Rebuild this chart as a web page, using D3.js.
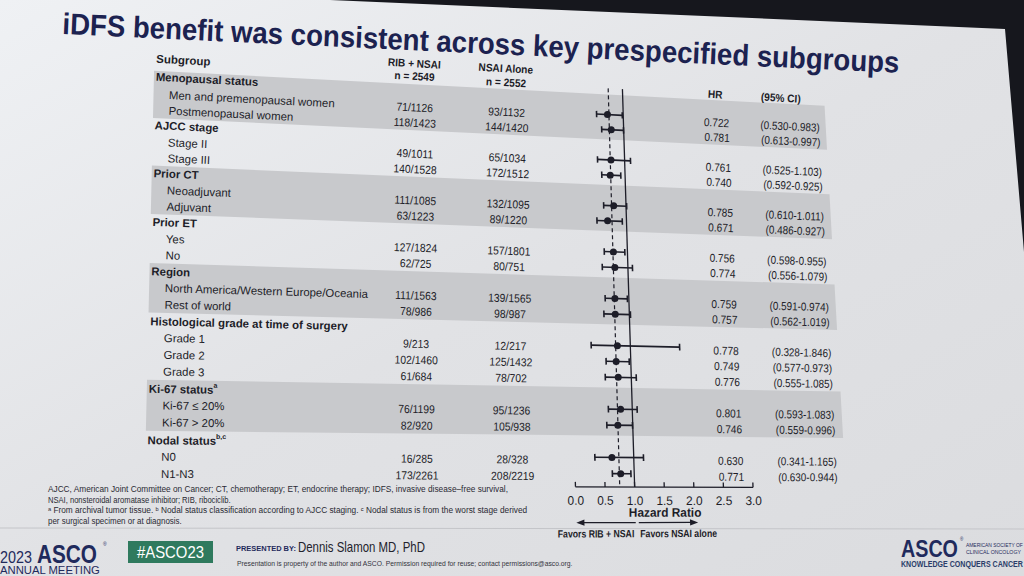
<!DOCTYPE html>
<html><head><meta charset="utf-8">
<script src="https://cdn.jsdelivr.net/npm/d3@7"></script>
<style>
html,body{margin:0;padding:0;background:#15161c;}
svg{display:block;font-family:"Liberation Sans",Arial,sans-serif;}
</style></head><body>
<svg id="chart" width="1024" height="576"></svg>
<script>
// ---------------- data ----------------
const titleText = "iDFS benefit was consistent across key prespecified subgroups";
const rowLabels = ["Menopausal status","Men and premenopausal women","Postmenopausal women",
  "AJCC stage","Stage II","Stage III",
  "Prior CT","Neoadjuvant","Adjuvant",
  "Prior ET","Yes","No",
  "Region","North America/Western Europe/Oceania","Rest of world",
  "Histological grade at time of surgery","Grade 1","Grade 2","Grade 3",
  "Ki-67 status","Ki-67 \u2264 20%","Ki-67 > 20%",
  "Nodal status","N0","N1-N3"];
const rowSup = ["","","","","","","","","","","","","","","","","","","","a","","","b,c","",""];
const isHeader = [1,0,0,1,0,0,1,0,0,1,0,0,1,0,0,1,0,0,0,1,0,0,1,0,0];
const ribNsai = [null,"71/1126","118/1423",null,"49/1011","140/1528",null,"111/1085","63/1223",null,"127/1824","62/725",null,"111/1563","78/986",null,"9/213","102/1460","61/684",null,"76/1199","82/920",null,"16/285","173/2261"];
const nsaiAlone = [null,"93/1132","144/1420",null,"65/1034","172/1512",null,"132/1095","89/1220",null,"157/1801","80/751",null,"139/1565","98/987",null,"12/217","125/1432","78/702",null,"95/1236","105/938",null,"28/328","208/2219"];
const hrValues = [null,0.722,0.781,null,0.761,0.740,null,0.785,0.671,null,0.756,0.774,null,0.759,0.757,null,0.778,0.749,0.776,null,0.801,0.746,null,0.630,0.771];
const ciLow = [null,0.530,0.613,null,0.525,0.592,null,0.610,0.486,null,0.598,0.556,null,0.591,0.562,null,0.328,0.577,0.555,null,0.593,0.559,null,0.341,0.630];
const ciHigh = [null,0.983,0.997,null,1.103,0.925,null,1.011,0.927,null,0.955,1.079,null,0.974,1.019,null,1.846,0.973,1.085,null,1.083,0.996,null,1.165,0.944];
const shadedGroups = [[0,2],[6,8],[12,14],[19,21]];
const axisTicks = [0,0.5,1.0,1.5,2.0,2.5,3.0];
const overallHR = 0.748;
const colHeaders1 = ["RIB + NSAI","NSAI Alone"];
const colHeaders2 = ["n = 2549","n = 2552"];
const footnoteLines = [
  "AJCC, American Joint Committee on Cancer; CT, chemotherapy; ET, endocrine therapy; IDFS, invasive disease\u2013free survival,",
  "NSAI, nonsteroidal aromatase inhibitor; RIB, ribociclib.",
  "\u1d43 From archival tumor tissue. \u1d47 Nodal status classification according to AJCC staging. \u1d9c Nodal status is from the worst stage derived",
  "per surgical specimen or at diagnosis."
];

// ---------------- setup ----------------
const svg = d3.select("#chart");
const W = 1024, H = 576;
const defs = svg.append("defs");
const grad = defs.append("linearGradient").attr("id","bg").attr("x1","0").attr("y1","0").attr("x2","1").attr("y2","1");
grad.append("stop").attr("offset","0").attr("stop-color","#eff1f4");
grad.append("stop").attr("offset","0.5").attr("stop-color","#e1e2e5");
grad.append("stop").attr("offset","1").attr("stop-color","#dbdcdf");
svg.append("rect").attr("width",W).attr("height",H).attr("fill","url(#bg)");
svg.append("path").attr("d", d3.line()([[330,0],[820,21],[1005,29],[1024,252],[1024,0]]) + "Z").attr("fill","#16171d");

// text squeezed to a given width by a transform (style applied before measuring)
function fitText(sel, x0, y0, str, width, style, rot){
  const t = sel.append("text");
  Object.entries(style||{}).forEach(([k,v])=>t.attr(k,v));
  t.text(str);
  const len = t.node().getComputedTextLength() || width;
  t.attr("transform",`translate(${x0},${y0}) rotate(${rot||0}) scale(${(width/len).toFixed(4)},1)`);
  return t;
}

// camera view: bilinear map (with perspective easing down the page) from flat slide coords to the photo
const FX0=166, FX1=808, FY0=95.5, FY1=475;
const cA=[169,95], cB=[790,126], cC=[161,474], cD=[808,477];
function P(pt){
  const u=(pt[0]-FX0)/(FX1-FX0), v0=(pt[1]-FY0)/(FY1-FY0);
  const a=1.05-0.015*u;
  const v=v0/(v0+a*(1-v0));
  return [0,1].map(k=>(1-u)*(1-v)*cA[k]+u*(1-v)*cB[k]+(1-u)*v*cC[k]+u*v*cD[k]);
}
const line = d3.line();
function pline(pts){return line(pts.map(P));}
function ptext(sel, X, Y, str, anchor, sx){
  const p=P([X,Y]), q=P([X+30,Y]);
  const ang=Math.atan2(q[1]-p[1],q[0]-p[0])*180/Math.PI;
  return sel.append("text").attr("transform",`translate(${p[0].toFixed(2)},${p[1].toFixed(2)}) rotate(${ang.toFixed(3)}) scale(${sx||1},1)`)
    .attr("text-anchor",anchor||"start").attr("dominant-baseline","central").text(str);
}

// scales (flat coordinates)
const y = d3.scalePoint().domain(d3.range(rowLabels.length)).range([77,475]);
const step = (475-79)/(rowLabels.length-1);
const x = d3.scaleLinear().domain([0,3]).range([577,753]);
const ink = "#1d1d28";

// ---------------- title ----------------
fitText(svg,62,34,titleText,838,{"font-size":30,"font-weight":"bold","fill":"#1c2250"},2.65);

// ---------------- table ----------------
const tbl = svg.append("g");
const yr = i => 79 + i*step;
tbl.selectAll("path.band").data(shadedGroups).join("path").attr("class","band")
  .attr("d",d=>pline([[150,yr(d[0])-step/2],[845,yr(d[0])-step/2],[845,yr(d[1])+step/2],[150,yr(d[1])+step/2]])+"Z")
  .attr("fill","#c8c9cc");

const tg = tbl.append("g").attr("fill",ink).attr("font-size",11.5);
ptext(tg,152,58,"Subgroup").attr("font-weight","bold");
ptext(tg,420,47.7,colHeaders1[0],"middle",0.92).attr("font-weight","bold").attr("font-size",11);
ptext(tg,420,61.5,colHeaders2[0],"middle",0.92).attr("font-weight","bold").attr("font-size",11);
ptext(tg,515,47.7,colHeaders1[1],"middle",0.92).attr("font-weight","bold").attr("font-size",11);
ptext(tg,515,63,colHeaders2[1],"middle",0.92).attr("font-weight","bold").attr("font-size",11);
ptext(tg,732,64,"HR","middle",0.92).attr("font-weight","bold").attr("font-size",11);
ptext(tg,800,64,"(95% CI)","middle",0.92).attr("font-weight","bold").attr("font-size",11);

rowLabels.forEach((lab,i)=>{
  const Y = isHeader[i] ? y(i) + (i===0?0:1) : yr(i);
  if(isHeader[i]){
    const t=ptext(tg,152,Y,lab).attr("font-weight","bold").attr("font-size",11.4);
    if(rowSup[i]) t.append("tspan").attr("font-size",7).attr("dy",-5).text(rowSup[i]);
  } else {
    ptext(tg,166,Y,lab).attr("font-size",11.4);
    ptext(tg,420,Y,ribNsai[i],"middle",0.9);
    ptext(tg,515,Y,nsaiAlone[i],"middle",0.9);
    ptext(tg,732,Y,hrValues[i].toFixed(3),"middle",0.88);
    ptext(tg,808,Y,`(${ciLow[i].toFixed(3)}-${ciHigh[i].toFixed(3)})`,"middle",0.86);
  }
});

// ---------------- forest plot ----------------
const fp = tbl.append("g").attr("stroke",ink).attr("fill","none");
const topY = 64, axisY = 486;
fp.append("path").attr("d",pline([[x(1),topY],[x(1),axisY]])).attr("stroke-width",1.3);
fp.append("path").attr("d",pline([[x(overallHR),topY],[x(overallHR),axisY]])).attr("stroke-width",1.2).attr("stroke-dasharray","4,3");
const off = -2.5;
rowLabels.forEach((lab,i)=>{
  if(isHeader[i]) return;
  const Y=yr(i)+off;
  fp.append("path").attr("d",pline([[x(ciLow[i]),Y],[x(ciHigh[i]),Y]])).attr("stroke-width",1.6);
  fp.append("path").attr("d",pline([[x(ciLow[i]),Y-3.5],[x(ciLow[i]),Y+3.5]])).attr("stroke-width",1.6);
  fp.append("path").attr("d",pline([[x(ciHigh[i]),Y-3.5],[x(ciHigh[i]),Y+3.5]])).attr("stroke-width",1.6);
  const c=P([x(hrValues[i]),Y]);
  fp.append("circle").attr("cx",c[0]).attr("cy",c[1]).attr("r",3.5).attr("fill",ink).attr("stroke","none");
});
fp.append("path").attr("d",pline([[x(0),axisY],[x(3),axisY]])).attr("stroke-width",1.3);
axisTicks.forEach(t=>{
  fp.append("path").attr("d",pline([[x(t),axisY],[x(t),axisY-5]])).attr("stroke-width",1.3);
  ptext(tg,x(t),axisY+14,d3.format(".1f")(t),"middle",0.95).attr("font-size",12.5);
});
ptext(tg,x(1.5),axisY+26,"Hazard Ratio","middle",0.95).attr("font-weight","bold").attr("font-size",12.5);
const aY = axisY+36;
fp.append("path").attr("d",pline([[x(1),aY],[x(0)+6,aY]])).attr("stroke-width",1.2);
fp.append("path").attr("d",pline([[x(1)+3,aY],[x(2.05)-6,aY]])).attr("stroke-width",1.2);
const ah1=[[x(0),aY],[x(0)+8,aY-3.2],[x(0)+8,aY+3.2]].map(P);
const ah2=[[x(2.05),aY],[x(2.05)-8,aY-3.2],[x(2.05)-8,aY+3.2]].map(P);
fp.append("path").attr("d",line(ah1)+"Z").attr("fill",ink).attr("stroke","none");
fp.append("path").attr("d",line(ah2)+"Z").attr("fill",ink).attr("stroke","none");
ptext(tg,x(0.97),aY+11,"Favors RIB + NSAI","end",0.83).attr("font-weight","bold").attr("font-size",10.5);
ptext(tg,x(1.07),aY+11,"Favors NSAI alone","start",0.83).attr("font-weight","bold").attr("font-size",10.5);

// ---------------- footnotes ----------------
const fn = svg.append("g").attr("fill","#2a2a33");
const fs = {"font-size":8.5};
fitText(fn,48,492,footnoteLines[0],461,fs);
fitText(fn,48,502.5,footnoteLines[1],183,fs);
fitText(fn,48,513,footnoteLines[2],481,fs);
fitText(fn,48,523.5,footnoteLines[3],134,fs);

// ---------------- footer ----------------
svg.append("line").attr("x1",0).attr("x2",W).attr("y1",528).attr("y2",529).attr("stroke","#c4c5c9").attr("stroke-width",1);
const navy = "#1f2a5c";
const ft = svg.append("g").attr("fill",navy);
fitText(ft,0,563,"2023",32,{"font-size":17});
fitText(ft,37,563,"ASCO",60,{"font-size":25,"font-weight":"bold"});
ft.append("text").attr("x",103).attr("y",546).attr("font-size",5).text("\u00ae");
fitText(ft,0,573.5,"ANNUAL MEETING",100,{"font-size":10.5});
ft.append("rect").attr("x",128).attr("y",541).attr("width",85).attr("height",22).attr("fill","#2f7a5e");
fitText(ft,137,558,"#ASCO23",67,{"font-size":16,"fill":"#ffffff"});
fitText(ft,236,551,"PRESENTED BY:",60,{"font-size":7.5,"font-weight":"bold"});
fitText(ft,298,552,"Dennis Slamon MD, PhD",127,{"font-size":14,"fill":"#23232d"});
fitText(ft,237,566,"Presentation is property of the author and ASCO. Permission required for reuse; contact permissions@asco.org.",336,{"font-size":6.5,"fill":"#33333c"});
fitText(ft,901,557,"ASCO",57,{"font-size":23,"font-weight":"bold"});
ft.append("text").attr("x",960).attr("y",541).attr("font-size",4.5).text("\u00ae");
fitText(ft,966,547,"AMERICAN SOCIETY OF",57,{"font-size":5.5});
fitText(ft,966,554,"CLINICAL ONCOLOGY",55,{"font-size":5.5});
fitText(ft,901,567,"KNOWLEDGE CONQUERS CANCER",122,{"font-size":8.5,"font-weight":"bold","fill":"#2a3d6a"});
</script>
</body></html>
